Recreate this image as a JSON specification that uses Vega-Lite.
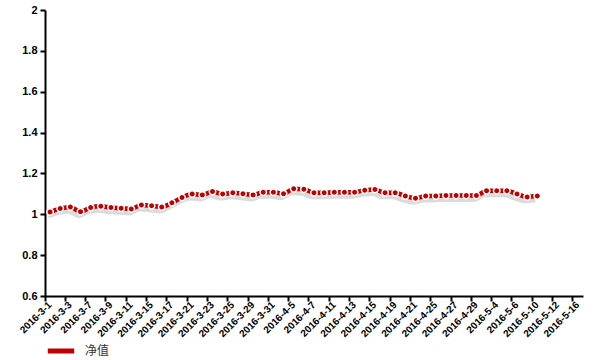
{
  "$schema": "https://vega.github.io/schema/vega-lite/v6.json",
  "width": 538,
  "height": 286,
  "autosize": {"type": "none"},
  "padding": {"left": 45, "top": 10, "right": 17, "bottom": 64},
  "background": "white",
  "config": {
    "view": {"stroke": null},
    "axis": {"grid": false, "domainColor": "#000", "domainWidth": 2, "tickColor": "#000", "tickWidth": 2, "tickSize": 5, "labelFont": "Liberation Sans", "labelFontWeight": "bold", "labelColor": "#000", "title": null}
  },
  "data": {"values": [
    {"date": "2016-3-1", "value": 1.011},
    {"date": "2016-3-2", "value": 1.028},
    {"date": "2016-3-3", "value": 1.036},
    {"date": "2016-3-4", "value": 1.013},
    {"date": "2016-3-7", "value": 1.033},
    {"date": "2016-3-8", "value": 1.039},
    {"date": "2016-3-9", "value": 1.033},
    {"date": "2016-3-10", "value": 1.030},
    {"date": "2016-3-11", "value": 1.026},
    {"date": "2016-3-14", "value": 1.046},
    {"date": "2016-3-15", "value": 1.042},
    {"date": "2016-3-16", "value": 1.036},
    {"date": "2016-3-17", "value": 1.056},
    {"date": "2016-3-18", "value": 1.082},
    {"date": "2016-3-21", "value": 1.099},
    {"date": "2016-3-22", "value": 1.095},
    {"date": "2016-3-23", "value": 1.111},
    {"date": "2016-3-24", "value": 1.099},
    {"date": "2016-3-25", "value": 1.105},
    {"date": "2016-3-28", "value": 1.101},
    {"date": "2016-3-29", "value": 1.095},
    {"date": "2016-3-30", "value": 1.108},
    {"date": "2016-3-31", "value": 1.108},
    {"date": "2016-4-1", "value": 1.101},
    {"date": "2016-4-5", "value": 1.125},
    {"date": "2016-4-6", "value": 1.123},
    {"date": "2016-4-7", "value": 1.105},
    {"date": "2016-4-8", "value": 1.105},
    {"date": "2016-4-11", "value": 1.108},
    {"date": "2016-4-12", "value": 1.108},
    {"date": "2016-4-13", "value": 1.108},
    {"date": "2016-4-14", "value": 1.118},
    {"date": "2016-4-15", "value": 1.121},
    {"date": "2016-4-18", "value": 1.105},
    {"date": "2016-4-19", "value": 1.105},
    {"date": "2016-4-20", "value": 1.089},
    {"date": "2016-4-21", "value": 1.079},
    {"date": "2016-4-22", "value": 1.089},
    {"date": "2016-4-25", "value": 1.090},
    {"date": "2016-4-26", "value": 1.092},
    {"date": "2016-4-27", "value": 1.092},
    {"date": "2016-4-28", "value": 1.092},
    {"date": "2016-4-29", "value": 1.092},
    {"date": "2016-5-3", "value": 1.115},
    {"date": "2016-5-4", "value": 1.115},
    {"date": "2016-5-5", "value": 1.115},
    {"date": "2016-5-6", "value": 1.099},
    {"date": "2016-5-9", "value": 1.085},
    {"date": "2016-5-10", "value": 1.089}
  ]},
  "transform": [{"calculate": "'净值'", "as": "series"}],
  "encoding": {
    "x": {
      "field": "date", "type": "ordinal", "sort": null, "bandPosition": 0.5,
      "scale": {"type": "band", "paddingInner": 0, "paddingOuter": 0,
        "domain": ["2016-3-1","2016-3-2","2016-3-3","2016-3-4","2016-3-7","2016-3-8","2016-3-9","2016-3-10","2016-3-11","2016-3-14","2016-3-15","2016-3-16","2016-3-17","2016-3-18","2016-3-21","2016-3-22","2016-3-23","2016-3-24","2016-3-25","2016-3-28","2016-3-29","2016-3-30","2016-3-31","2016-4-1","2016-4-5","2016-4-6","2016-4-7","2016-4-8","2016-4-11","2016-4-12","2016-4-13","2016-4-14","2016-4-15","2016-4-18","2016-4-19","2016-4-20","2016-4-21","2016-4-22","2016-4-25","2016-4-26","2016-4-27","2016-4-28","2016-4-29","2016-5-3","2016-5-4","2016-5-5","2016-5-6","2016-5-9","2016-5-10","2016-5-11","2016-5-12","2016-5-13","2016-5-16"]},
      "axis": {
        "bandPosition": 0,
        "values": ["2016-3-1","2016-3-3","2016-3-7","2016-3-9","2016-3-11","2016-3-15","2016-3-17","2016-3-21","2016-3-23","2016-3-25","2016-3-29","2016-3-31","2016-4-5","2016-4-7","2016-4-11","2016-4-13","2016-4-15","2016-4-19","2016-4-21","2016-4-25","2016-4-27","2016-4-29","2016-5-4","2016-5-6","2016-5-10","2016-5-12","2016-5-16"],
        "labelAngle": -45, "labelAlign": "right", "labelBaseline": "middle", "labelFontSize": 10, "labelPadding": 2, "labelOverlap": false
      }
    },
    "y": {
      "field": "value", "type": "quantitative",
      "scale": {"domain": [0.6, 2], "nice": false, "zero": false},
      "axis": {"values": [0.6, 0.8, 1, 1.2, 1.4, 1.6, 1.8, 2], "format": "~g", "labelFontSize": 11, "labelPadding": 3}
    }
  },
  "layer": [
    {
      "mark": {"type": "line", "interpolate": "monotone", "color": "#888", "strokeWidth": 5, "opacity": 0.3},
      "encoding": {"yOffset": {"value": 4}, "xOffset": {"value": 3}}
    },
    {
      "mark": {"type": "line", "interpolate": "monotone", "strokeWidth": 4.5},
      "encoding": {
        "color": {"field": "series", "type": "nominal", "scale": {"range": ["#c00000"]},
          "legend": {"orient": "none", "legendX": 0, "legendY": 325, "title": null, "symbolType": "stroke", "symbolStrokeWidth": 5, "symbolSize": 700, "labelFont": "Noto Sans CJK SC", "labelFontSize": 12, "labelColor": "#333", "labelOffset": 8}}
      }
    },
    {
      "mark": {"type": "point", "filled": true, "color": "#c00000", "stroke": "white", "strokeWidth": 1.5, "size": 42, "opacity": 1}
    }
  ]
}
